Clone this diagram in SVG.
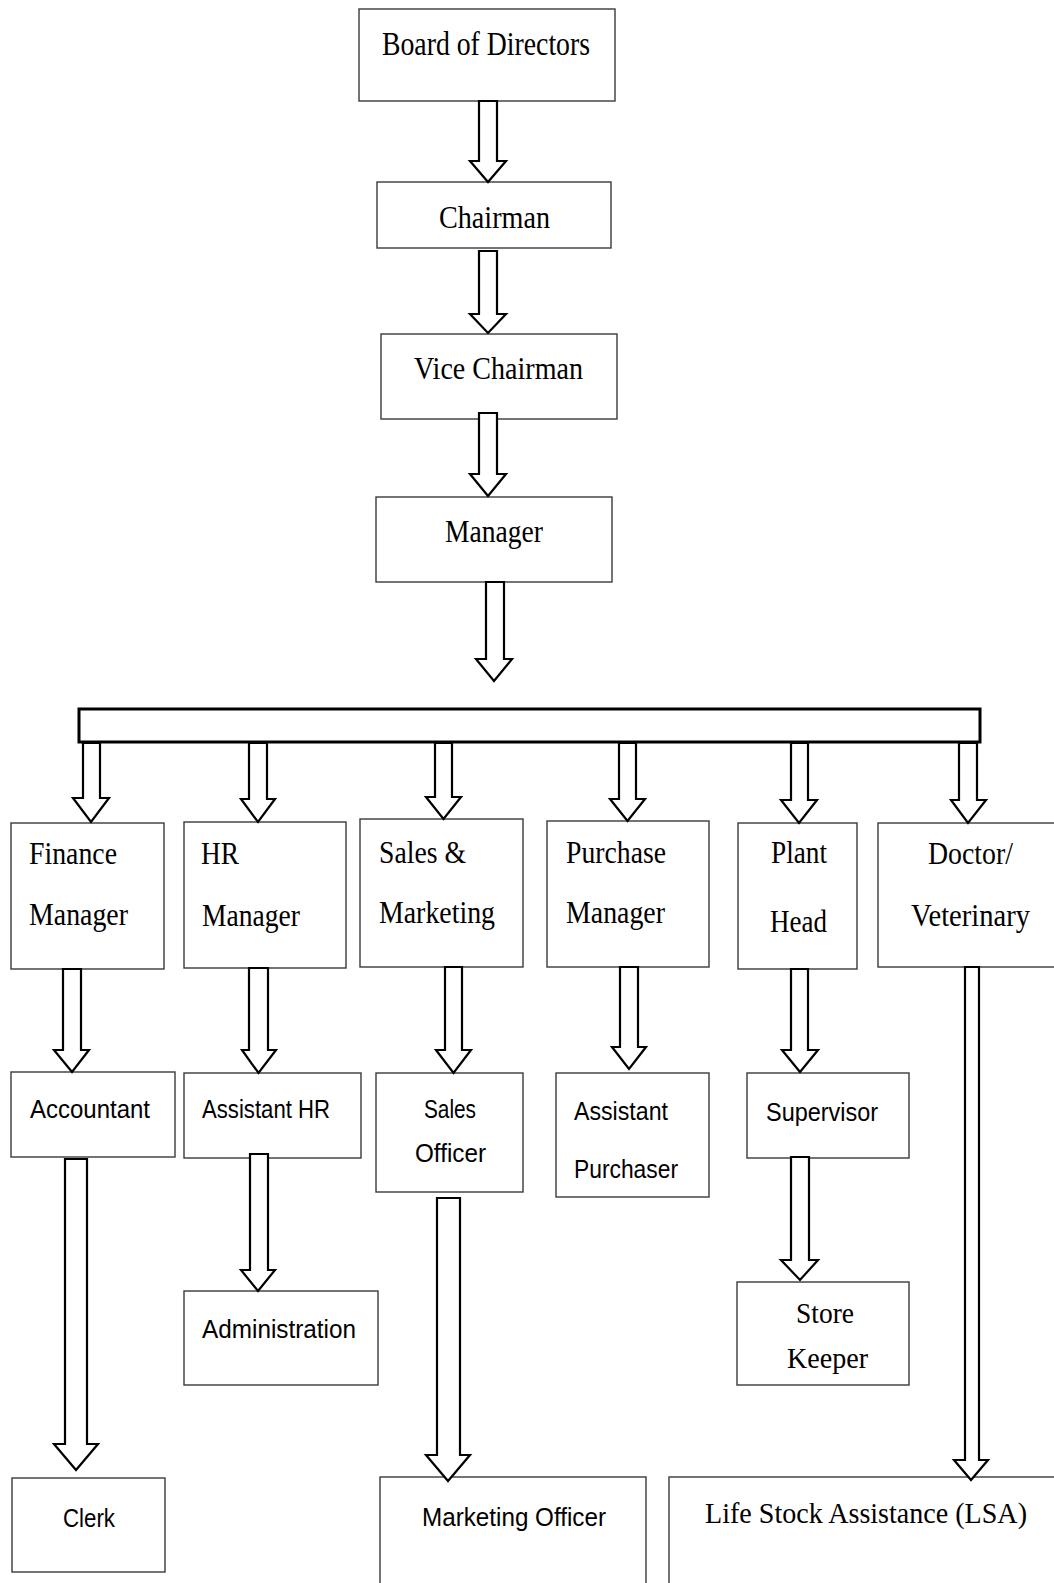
<svg xmlns="http://www.w3.org/2000/svg" width="1054" height="1583" viewBox="0 0 1054 1583">
<style>
.box{fill:#fff;stroke:#3a3a3a;stroke-width:1.4}
.arr{fill:#fff;stroke:#000;stroke-width:2.2;stroke-linejoin:miter}
.bar{fill:#fff;stroke:#000;stroke-width:3}
.t{font-family:"Liberation Serif","Times New Roman",serif;fill:#000}
.s{font-family:"Liberation Sans",Arial,sans-serif;fill:#000}
</style>
<rect width="1054" height="1583" fill="#fff"/>
<g id="nodes">
<g id="board"><rect class="box" x="359" y="9" width="256" height="92"/><text class="t" x="382" y="55" font-size="33" textLength="208" lengthAdjust="spacingAndGlyphs">Board of Directors</text></g>
<g id="chairman"><rect class="box" x="377" y="182" width="234" height="66"/><text class="t" x="439" y="228" font-size="32" textLength="111" lengthAdjust="spacingAndGlyphs">Chairman</text></g>
<g id="vice"><rect class="box" x="381" y="334" width="236" height="85"/><text class="t" x="414" y="379" font-size="32" textLength="169" lengthAdjust="spacingAndGlyphs">Vice Chairman</text></g>
<g id="manager"><rect class="box" x="376" y="497" width="236" height="85"/><text class="t" x="445" y="542" font-size="31" textLength="98" lengthAdjust="spacingAndGlyphs">Manager</text></g>
<g id="finance"><rect class="box" x="11" y="823" width="153" height="146"/><text class="t" x="29" y="864" font-size="31" textLength="88" lengthAdjust="spacingAndGlyphs">Finance</text><text class="t" x="29" y="925" font-size="31" textLength="99" lengthAdjust="spacingAndGlyphs">Manager</text></g>
<g id="hr"><rect class="box" x="184" y="822" width="162" height="146"/><text class="t" x="201" y="864" font-size="31" textLength="38" lengthAdjust="spacingAndGlyphs">HR</text><text class="t" x="202" y="926" font-size="31" textLength="98" lengthAdjust="spacingAndGlyphs">Manager</text></g>
<g id="sales"><rect class="box" x="360" y="819" width="163" height="148"/><text class="t" x="379" y="863" font-size="31" textLength="87" lengthAdjust="spacingAndGlyphs">Sales &amp;</text><text class="t" x="379" y="923" font-size="31" textLength="116" lengthAdjust="spacingAndGlyphs">Marketing</text></g>
<g id="purchase"><rect class="box" x="547" y="821" width="162" height="146"/><text class="t" x="566" y="863" font-size="31" textLength="100" lengthAdjust="spacingAndGlyphs">Purchase</text><text class="t" x="566" y="923" font-size="31" textLength="99" lengthAdjust="spacingAndGlyphs">Manager</text></g>
<g id="plant"><rect class="box" x="738" y="823" width="119" height="146"/><text class="t" x="771" y="863" font-size="31" textLength="56" lengthAdjust="spacingAndGlyphs">Plant</text><text class="t" x="770" y="932" font-size="31" textLength="57" lengthAdjust="spacingAndGlyphs">Head</text></g>
<g id="doctor"><rect class="box" x="878" y="823" width="200" height="144"/><text class="t" x="928" y="864" font-size="31" textLength="85" lengthAdjust="spacingAndGlyphs">Doctor/</text><text class="t" x="911" y="926" font-size="31" textLength="119" lengthAdjust="spacingAndGlyphs">Veterinary</text></g>
<g id="accountant"><rect class="box" x="11" y="1072" width="164" height="85"/><text class="s" x="30" y="1118" font-size="26" textLength="120" lengthAdjust="spacingAndGlyphs">Accountant</text></g>
<g id="assistant-hr"><rect class="box" x="184" y="1073" width="177" height="85"/><text class="s" x="202" y="1118" font-size="26" textLength="128" lengthAdjust="spacingAndGlyphs">Assistant HR</text></g>
<g id="sales-officer"><rect class="box" x="376" y="1073" width="147" height="119"/><text class="s" x="424" y="1118" font-size="26" textLength="52" lengthAdjust="spacingAndGlyphs">Sales</text><text class="s" x="415" y="1162" font-size="26" textLength="71" lengthAdjust="spacingAndGlyphs">Officer</text></g>
<g id="assistant-purchaser"><rect class="box" x="556" y="1073" width="153" height="124"/><text class="s" x="574" y="1120" font-size="26" textLength="94" lengthAdjust="spacingAndGlyphs">Assistant</text><text class="s" x="574" y="1178" font-size="26" textLength="104" lengthAdjust="spacingAndGlyphs">Purchaser</text></g>
<g id="supervisor"><rect class="box" x="747" y="1073" width="162" height="85"/><text class="s" x="766" y="1121" font-size="26" textLength="112" lengthAdjust="spacingAndGlyphs">Supervisor</text></g>
<g id="administration"><rect class="box" x="184" y="1291" width="194" height="94"/><text class="s" x="202" y="1338" font-size="26" textLength="154" lengthAdjust="spacingAndGlyphs">Administration</text></g>
<g id="store-keeper"><rect class="box" x="737" y="1282" width="172" height="103"/><text class="t" x="796" y="1323" font-size="30" textLength="58" lengthAdjust="spacingAndGlyphs">Store</text><text class="t" x="787" y="1368" font-size="30" textLength="81" lengthAdjust="spacingAndGlyphs">Keeper</text></g>
<g id="clerk"><rect class="box" x="12" y="1478" width="153" height="94"/><text class="s" x="63" y="1527" font-size="26" textLength="52" lengthAdjust="spacingAndGlyphs">Clerk</text></g>
<g id="marketing-officer"><rect class="box" x="380" y="1477" width="266" height="130"/><text class="s" x="422" y="1526" font-size="26" textLength="184" lengthAdjust="spacingAndGlyphs">Marketing Officer</text></g>
<g id="lsa"><rect class="box" x="669" y="1477" width="420" height="130"/><text class="t" x="705" y="1523" font-size="29" textLength="322" lengthAdjust="spacingAndGlyphs">Life Stock Assistance (LSA)</text></g>
</g>
<g id="connectors">
<rect class="bar" x="79" y="709" width="901" height="33"/>
<polygon class="arr" points="479,101 497,101 497,161 506,161 488,182 470,161 479,161"/>
<polygon class="arr" points="479,251 497,251 497,314 506,314 488,333 470,314 479,314"/>
<polygon class="arr" points="479,413 497,413 497,474 506,474 488,496 470,474 479,474"/>
<polygon class="arr" points="486,582 504,582 504,659 512,659 494,681 476,659 486,659"/>
<polygon class="arr" points="83,743 100,743 100,798 109,798 91,822 73,798 83,798"/>
<polygon class="arr" points="249,743 267,743 267,799 275,799 258,822 241,799 249,799"/>
<polygon class="arr" points="435,743 452,743 452,797 461,797 443.5,819 426,797 435,797"/>
<polygon class="arr" points="619,743 636,743 636,799 645,799 627.5,821 610,799 619,799"/>
<polygon class="arr" points="791,743 808,743 808,800 817,800 799,823 781,800 791,800"/>
<polygon class="arr" points="959,743 977,743 977,800 986,800 968,823 951,800 959,800"/>
<polygon class="arr" points="63,969 81,969 81,1050 89,1050 72,1072 54,1050 63,1050"/>
<polygon class="arr" points="249,968 268,968 268,1050 276,1050 258.5,1073 242,1050 249,1050"/>
<polygon class="arr" points="445,967 462,967 462,1050 471,1050 453.5,1073 436,1050 445,1050"/>
<polygon class="arr" points="620,967 638,967 638,1047 646,1047 629,1069 612,1047 620,1047"/>
<polygon class="arr" points="791,969 808,969 808,1050 818,1050 800,1072 782,1050 791,1050"/>
<polygon class="arr" points="65,1159 87,1159 87,1444 98,1444 76,1470 54,1444 65,1444"/>
<polygon class="arr" points="250,1154 268,1154 268,1270 275,1270 258,1291 241,1270 250,1270"/>
<polygon class="arr" points="437,1198 460,1198 460,1455 470,1455 448,1481 426,1455 437,1455"/>
<polygon class="arr" points="791,1157 809,1157 809,1260 818,1260 800,1280 781,1260 791,1260"/>
<polygon class="arr" points="965,967 979,967 979,1460 988,1460 971,1480 954,1460 965,1460"/>
</g>
</svg>
